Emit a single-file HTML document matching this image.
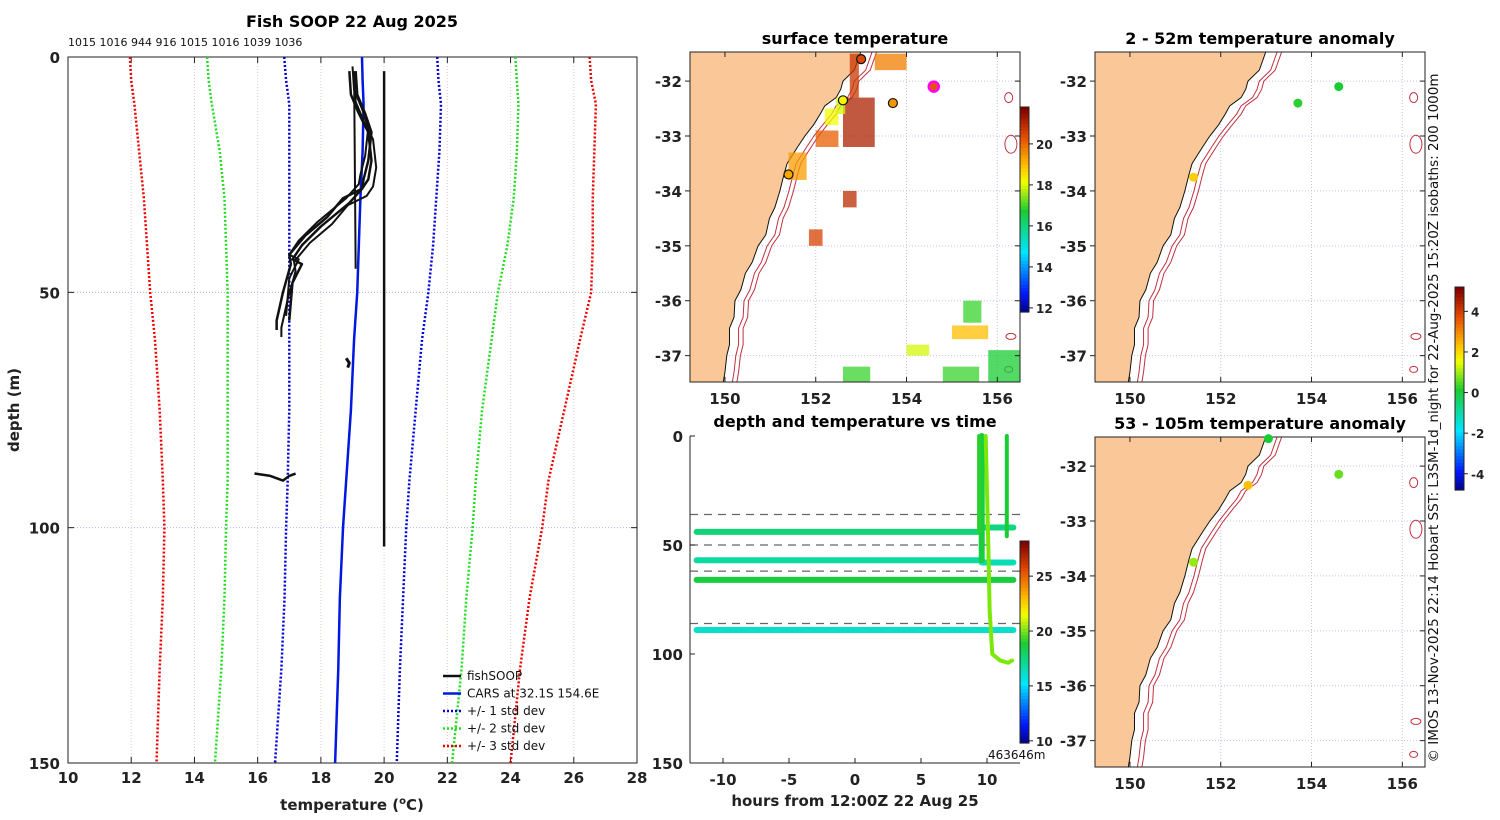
<!DOCTYPE html>
<html><head><meta charset="utf-8">
<style>
body{margin:0;background:#fff;}
svg{display:block;font-family:"DejaVu Sans","Liberation Sans",sans-serif;}
.t{font-weight:bold;font-size:16px;}
.tk{font-weight:bold;font-size:15px;fill:#222;}
.n{font-weight:normal;fill:#111;}
</style></head>
<body>
<svg id="fig" width="1500" height="820" viewBox="0 0 1500 820" xmlns="http://www.w3.org/2000/svg"></svg>
<script>
// ---------- DATA ----------
const profDepths=[0,5,10,20,30,40,50,60,75,90,100,115,130,150];
const sd3Left=[11.96,12.0,12.1,12.25,12.4,12.5,12.6,12.75,12.9,13.0,13.05,13.0,12.9,12.8];
const sd3Right=[26.5,26.55,26.7,26.65,26.6,26.6,26.55,26.2,25.7,25.2,25.0,24.6,24.3,24.0];
const sd2Left=[14.4,14.45,14.55,14.8,14.95,15.0,15.05,15.05,15.05,15.05,15.0,14.95,14.85,14.65];
const sd2Right=[24.15,24.2,24.25,24.2,24.1,23.9,23.6,23.4,23.1,22.9,22.8,22.6,22.45,22.15];
const sd1Left=[16.84,16.9,17.0,17.0,17.0,17.0,17.0,17.0,17.0,16.95,16.9,16.85,16.75,16.55];
const sd1Right=[21.68,21.72,21.8,21.75,21.65,21.55,21.4,21.2,21.0,20.8,20.7,20.6,20.5,20.4];
const carsT=[19.3,19.32,19.35,19.32,19.25,19.2,19.15,19.05,18.95,18.8,18.7,18.6,18.55,18.45];
const fishA_d=[3,8,12,16,22,26,28,30,34,38,42,44,50,56,58];
const fishA_t=[18.9,18.95,19.2,19.5,19.6,19.5,19.3,18.7,18.2,17.5,17.0,17.05,16.8,16.6,16.6];
const fishB_d=[3,8,12,16,22,26,28,31,36,40,43,44,48,56];
const fishB_t=[19.1,19.15,19.4,19.6,19.5,19.35,19.3,18.9,18.0,17.4,17.1,17.4,17.1,17.0];
const fishC_d=[3,104];const fishC_t=[20.0,20.0];
const fishD_d=[3,45];const fishD_t=[19.05,19.1];
const fishE_d=[88.5,89,90,89,88.5];const fishE_t=[15.9,16.4,16.8,17.0,17.2];
const fishF_d=[64,65,66];const fishF_t=[18.8,18.9,18.85];
const legendLabels=["fishSOOP","CARS at 32.1S 154.6E","+/- 1 std dev","+/- 2 std dev","+/- 3 std dev"];
const topCounts="1015 1016 944 916 1015 1016 1039 1036";

const coastLat=[-31.45,-31.8,-32,-32.15,-32.3,-32.45,-32.6,-32.8,-33,-33.2,-33.5,-33.7,-34,-34.3,-34.5,-34.8,-35,-35.3,-35.5,-35.8,-36,-36.3,-36.5,-36.8,-37,-37.3,-37.5];
const coastLon=[153.0,152.85,152.6,152.55,152.45,152.2,152.1,151.95,151.76,151.6,151.37,151.3,151.21,151.1,150.98,150.9,150.73,150.6,150.45,150.35,150.22,150.2,150.1,150.1,150.04,150.0,149.96];
const iso1Off=0.2, iso2Off=0.3;

// SST patches [lon0,lat0,lon1,lat1,temp]
const sstPatches=[[152.75,-31.5,152.95,-32.3,20.8],[152.6,-32.3,153.3,-33.2,21.2],[153.3,-31.5,154.0,-31.8,19.8],
[152.0,-32.9,152.5,-33.2,20.2],[151.4,-33.3,151.8,-33.8,19.4],[152.6,-34.0,152.9,-34.3,21.0],
[151.85,-34.7,152.15,-35.0,20.6],[152.2,-32.5,152.5,-32.8,18.2],[152.45,-32.3,152.65,-32.6,18.0],
[155.25,-36.0,155.65,-36.4,17.0],[155.0,-36.45,155.8,-36.7,19.0],[155.8,-36.9,156.5,-37.5,16.8],
[154.0,-36.8,154.5,-37.0,18.0],[152.6,-37.2,153.2,-37.5,17.0],[154.8,-37.2,155.6,-37.5,17.0]];
const map1MarkerLon=[153.0,152.6,153.7,154.6,151.4];
const map1MarkerLat=[-31.6,-32.35,-32.4,-32.1,-33.7];
const map1MarkerT=[20.5,18.3,19.5,20.3,19.3];
const anomA_lon=[153.7,154.6,151.4];const anomA_lat=[-32.4,-32.1,-33.75];const anomA_v=[0.3,0.2,2.2];
const anomB_lon=[153.05,154.6,152.6,151.4];const anomB_lat=[-31.5,-32.15,-32.35,-33.75];const anomB_v=[0.2,0.7,2.4,1.0];

// time panel
const lineDepth=[44,57,66,89];
const lineTemp=[17.8,17.0,18.8,16.3];
const lineEnd=[9.5,9.5,12,12];
const dashDepth=[36,50,62,86];
const stubDepth=[42,58];
const stubTemp=[17.6,16.6];
const castT=[9.9,10.1,10.2,10.4,11.0,11.6,11.9];
const castD=[0,50,80,100,103,104,103];
const vertX=[9.4,11.5];const vertD=[44,46];const vertTemp=[19.2,19.0];

// ---------- helpers ----------
const S=document.getElementById('fig');const NS='http://www.w3.org/2000/svg';
function mk(tag,at,par){const e=document.createElementNS(NS,tag);for(const k in at)e.setAttribute(k,at[k]);(par||S).appendChild(e);return e;}
function txt(x,y,s,cls,anchor,par){const e=mk('text',{x:x,y:y,'class':cls===undefined?'tk':cls,'text-anchor':anchor||'middle'},par);e.textContent=s;return e;}
function jet(v){v=Math.max(0,Math.min(1,v));const st=[[0,0,0,0.5],[0.1,0,0.1,1],[0.3,0,0.9,1],[0.5,0.1,0.8,0.2],[0.64,0.95,1,0],[0.72,1,0.75,0],[0.86,0.9,0.3,0],[1,0.5,0,0]];
for(let i=1;i<st.length;i++){if(v<=st[i][0]){const a=st[i-1],b=st[i],f=(v-a[0])/(b[0]-a[0]);return 'rgb('+[1,2,3].map(j=>Math.round(255*(a[j]+f*(b[j]-a[j])))).join(',')+')';}}return 'rgb(128,0,0)';}

// ---------- left profile panel ----------
const L={x0:68,x1:637,y0:57,y1:763};
const px=t=>L.x0+(t-10)/18*(L.x1-L.x0), py=d=>L.y0+d/150*(L.y1-L.y0);
txt(352,27,"Fish SOOP 22 Aug 2025",'t');
const tc=txt(68,46,topCounts,'n', 'start');tc.setAttribute('style','font-size:11px');
for(let t=12;t<=26;t+=2){const g=mk('line',{x1:px(t),x2:px(t),y1:L.y0,y2:L.y1,stroke:t%4?'#e8c8c0':'#c8d0ee','stroke-width':1,'stroke-dasharray':'1 2'});}
[50,100].forEach(d=>mk('line',{x1:L.x0,x2:L.x1,y1:py(d),y2:py(d),stroke:'#aab4e6','stroke-dasharray':'1 2'}));
const lfr=mk('rect',{x:L.x0,y:L.y0,width:L.x1-L.x0,height:L.y1-L.y0,fill:'none',stroke:'#222'});

for(let t=10;t<=28;t+=2){mk('line',{x1:px(t),x2:px(t),y1:L.y1,y2:L.y1-6,stroke:'#222'});mk('line',{x1:px(t),x2:px(t),y1:L.y0,y2:L.y0+6,stroke:'#222'});txt(px(t),783,String(t));}
[0,50,100,150].forEach(d=>{mk('line',{x1:L.x0,x2:L.x0+6,y1:py(d),y2:py(d),stroke:'#222'});mk('line',{x1:L.x1,x2:L.x1-6,y1:py(d),y2:py(d),stroke:'#222'});txt(60,py(d)+6,String(d),'tk','end');});
const xl=mk('text',{x:352,y:810,'class':'tk','text-anchor':'middle'});xl.innerHTML='temperature (<tspan dy="-6" font-size="10">o</tspan><tspan dy="6">C)</tspan>';

const yl=txt(0,0,'depth (m)');yl.setAttribute('transform','translate(19,410) rotate(-90)');

function prof(T,D,col,w,dash,name){const p=mk('polyline',{points:T.map((t,i)=>px(t)+','+py(D[i])).join(' '),fill:'none',stroke:col,'stroke-width':w,'stroke-dasharray':dash||'none','stroke-linejoin':'round'});}
prof(sd3Left,profDepths,'#e00','2.5','2 2','std3-left');prof(sd3Right,profDepths,'#e00','2.5','2 2','std3-right');
prof(sd2Left,profDepths,'#2d2','2.5','2 2','std2-left');prof(sd2Right,profDepths,'#2d2','2.5','2 2','std2-right');
prof(sd1Left,profDepths,'#00d','2.5','2 2','std1-left');prof(sd1Right,profDepths,'#00d','2.5','2 2','std1-right');
prof(carsT,profDepths,'#0018e0','2.5','','cars-profile');
prof(fishA_t,fishA_d,'#111','2.5','','fish-profile-a');prof(fishB_t,fishB_d,'#111','2.5','','fish-profile-b');
prof(fishA_t.map(t=>t+0.15),fishA_d.map(d=>d+1.5),'#111','2','','fish-profile-a2');prof(fishB_t.map(t=>t-0.1),fishB_d.map(d=>d-1),'#111','2','','fish-profile-b2');
prof(fishC_t,fishC_d,'#111','2.5','','fish-profile-c');prof(fishD_t,fishD_d,'#111','2','','fish-profile-d');
prof(fishE_t,fishE_d,'#111','2.5','','fish-profile-e');prof(fishF_t,fishF_d,'#111','3','','fish-profile-f');
// legend
const lg=mk('g',{});
const lc=[['#111',''],['#0018e0',''],['#00d','2 2'],['#2d2','2 2'],['#e00','2 2']];
legendLabels.forEach((s,i)=>{const y=676+i*17.5;mk('line',{x1:443,x2:461,y1:y,y2:y,stroke:lc[i][0],'stroke-width':2.5,'stroke-dasharray':lc[i][1]||'none'},lg);
const t=txt(467,y+4,s,'n','start',lg);t.setAttribute('style','font-size:12px');});

// ---------- maps ----------
function makeMap(X0,Y0,title,name){
 const W=330,H=330,lon0=149.23,lon1=156.5,lat0=-31.47,lat1=-37.48;
 const mx=l=>X0+(l-lon0)/(lon1-lon0)*W, my=l=>Y0+(l-lat0)/(lat1-lat0)*H;
 const g=mk('g',{});
 const cid='c'+X0+Y0;const cp=mk('clipPath',{id:cid},g);mk('rect',{x:X0,y:Y0,width:W,height:H},cp);
 const gi=mk('g',{'clip-path':'url(#'+cid+')'},g);
 for(let l=150;l<=156;l+=2)mk('line',{x1:mx(l),x2:mx(l),y1:Y0,y2:Y0+H,stroke:l%4?'#d8c0c0':'#c0c6e6','stroke-dasharray':'1 2'},gi);
 for(let l=-32;l>=-37;l--)mk('line',{x1:X0,x2:X0+W,y1:my(l),y2:my(l),stroke:'#c0c6e6','stroke-dasharray':'1 2'},gi);
 let pts=coastLat.map((la,i)=>mx(coastLon[i])+','+my(la));
 const land=mk('polygon',{points:pts.join(' ')+' '+X0+','+(Y0+H)+' '+X0+','+Y0,fill:'#fac898',stroke:'#111','stroke-width':1},gi);
 
 [iso1Off,iso2Off].forEach(o=>mk('polyline',{points:coastLat.map((la,i)=>mx(coastLon[i]+o+(la>-32.8?0.05:0))+','+my(la)).join(' '),fill:'none',stroke:'#c03040','stroke-width':1},gi));
 [[156.25,-32.3,4,5],[156.3,-33.15,6,9],[156.3,-36.65,5,3],[156.25,-37.25,4,3]].forEach(s=>mk('ellipse',{cx:mx(s[0]),cy:my(s[1]),rx:s[2],ry:s[3],fill:'none',stroke:'#c03040'},gi));
 mk('rect',{x:X0,y:Y0,width:W,height:H,fill:'none',stroke:'#222'},g);
 for(let l=150;l<=156;l+=2){mk('line',{x1:mx(l),x2:mx(l),y1:Y0+H,y2:Y0+H-5,stroke:'#222'},g);mk('line',{x1:mx(l),x2:mx(l),y1:Y0,y2:Y0+5,stroke:'#222'},g);txt(mx(l),Y0+H+22,String(l),'tk','middle',g);}
 for(let l=-32;l>=-37;l--){mk('line',{x1:X0,x2:X0-5,y1:my(l),y2:my(l),stroke:'#222'},g);mk('line',{x1:X0+W,x2:X0+W-5,y1:my(l),y2:my(l),stroke:'#222'},g);txt(X0-8,my(l)+6,String(l),'tk','end',g);}
 txt(X0+W/2,Y0-8,title,'t','middle',g);
 return {mx,my,gi,g};
}
const m1=makeMap(690,52,'surface temperature','sst-map');
sstPatches.forEach(p=>{const r=mk('rect',{x:m1.mx(p[0]),y:m1.my(p[1]),width:m1.mx(p[2])-m1.mx(p[0]),height:m1.my(p[3])-m1.my(p[1]),fill:jet((p[4]-11.8)/10),opacity:0.75},m1.gi);});
map1MarkerLon.forEach((l,i)=>{const c=mk('circle',{cx:m1.mx(l),cy:m1.my(map1MarkerLat[i]),r:i==3?5:4.5,fill:jet((map1MarkerT[i]-11.8)/10),stroke:i==3?'#f0f':'#111','stroke-width':i==3?2.5:1.2},m1.g);});
const m2=makeMap(1095,52,'2 - 52m temperature anomaly','anomaly-map-shallow');
const m3=makeMap(1095,437,'53 - 105m temperature anomaly','anomaly-map-deep');
function anom(m,LO,LA,V){LO.forEach((l,i)=>{const c=mk('circle',{cx:m.mx(l),cy:m.my(LA[i]),r:4.5,fill:jet((V[i]+4.8)/10)},m.g);});}
anom(m2,anomA_lon,anomA_lat,anomA_v);anom(m3,anomB_lon,anomB_lat,anomB_v);

// colorbars
function cbar(x,y0,y1,vmin,vmax,ticks,name){const g=mk('g',{});
 const n=60;for(let i=0;i<n;i++)mk('rect',{x:x,y:y0+(y1-y0)*i/n,width:9,height:(y1-y0)/n+0.6,fill:jet(1-i/n)},g);
 mk('rect',{x:x,y:y0,width:9,height:y1-y0,fill:'none',stroke:'#222'},g);
 ticks.forEach(t=>{const y=y1-(t-vmin)/(vmax-vmin)*(y1-y0);mk('line',{x1:x+9,x2:x+13,y1:y,y2:y,stroke:'#222'},g);const e=txt(x+16,y+5,String(t),'tk','start',g);e.setAttribute('style','font-size:12px');});}
cbar(1020,107,312,11.8,21.8,[12,14,16,18,20],'sst-colorbar');
cbar(1455,287,490,-4.8,5.2,[-4,-2,0,2,4],'anomaly-colorbar');

// ---------- time panel ----------
const T={x0:690,x1:1020,y0:436,y1:763};
const tx=h=>T.x0+(h+12.5)/25*(T.x1-T.x0), ty=d=>T.y0+d/150*(T.y1-T.y0);
const tg=mk('g',{});
txt(855,427,'depth and temperature vs time','t','middle',tg);
dashDepth.forEach((d,i)=>mk('line',{x1:T.x0,x2:i==1?tx(10.2):T.x1,y1:ty(d),y2:ty(d),stroke:'#666','stroke-width':1.3,'stroke-dasharray':'8 6'},tg));
const tc2=(t)=>jet((t-9.8)/(28.2-9.8));
lineDepth.forEach((d,i)=>{const l=mk('line',{x1:tx(-12),x2:tx(lineEnd[i]),y1:ty(d),y2:ty(d),stroke:tc2(lineTemp[i]),'stroke-width':6,'stroke-linecap':'round'},tg);});
stubDepth.forEach((d,i)=>mk('line',{x1:tx(9.6),x2:tx(12),y1:ty(d),y2:ty(d),stroke:tc2(stubTemp[i]),'stroke-width':6,'stroke-linecap':'round'},tg));
mk('line',{x1:tx(9.6),x2:tx(9.6),y1:ty(0),y2:ty(57),stroke:tc2(18.8),'stroke-width':6,'stroke-linecap':'round'},tg);
vertX.forEach((h,i)=>mk('line',{x1:tx(h),x2:tx(h),y1:ty(0),y2:ty(vertD[i]),stroke:tc2(vertTemp[i]),'stroke-width':4,'stroke-linecap':'round'},tg));
const cast=mk('polyline',{points:castT.map((h,i)=>tx(h)+','+ty(castD[i])).join(' '),fill:'none',stroke:'#7ce80a','stroke-width':4,'stroke-linecap':'round'},tg);

mk('line',{x1:T.x0,x2:T.x0,y1:T.y0,y2:T.y1,stroke:'#222'},tg);mk('line',{x1:T.x0,x2:T.x1,y1:T.y1,y2:T.y1,stroke:'#222'},tg);
[-10,-5,0,5,10].forEach(h=>{mk('line',{x1:tx(h),x2:tx(h),y1:T.y1,y2:T.y1-5,stroke:'#222'},tg);txt(tx(h),785,String(h),'tk','middle',tg);});
[0,50,100,150].forEach(d=>{mk('line',{x1:T.x0,x2:T.x0+5,y1:ty(d),y2:ty(d),stroke:'#222'},tg);txt(683,ty(d)+6,String(d),'tk','end',tg);});
txt(855,806,'hours from 12:00Z 22 Aug 25','tk','middle',tg);
cbar(1020,541,743,9.8,28.2,[10,15,20,25],'time-colorbar');
const dm=txt(988,759,'463646m','n', 'start');dm.setAttribute('style','font-size:12px');

// credit
const cr=txt(0,0,'© IMOS 13-Nov-2025 22:14 Hobart SST: L3SM-1d_night for 22-Aug-2025 15:20Z isobaths: 200  1000m','n','middle');
cr.setAttribute('transform','translate(1438,418) rotate(-90)');cr.setAttribute('style','font-size:13.5px');

</script>
</body></html>
